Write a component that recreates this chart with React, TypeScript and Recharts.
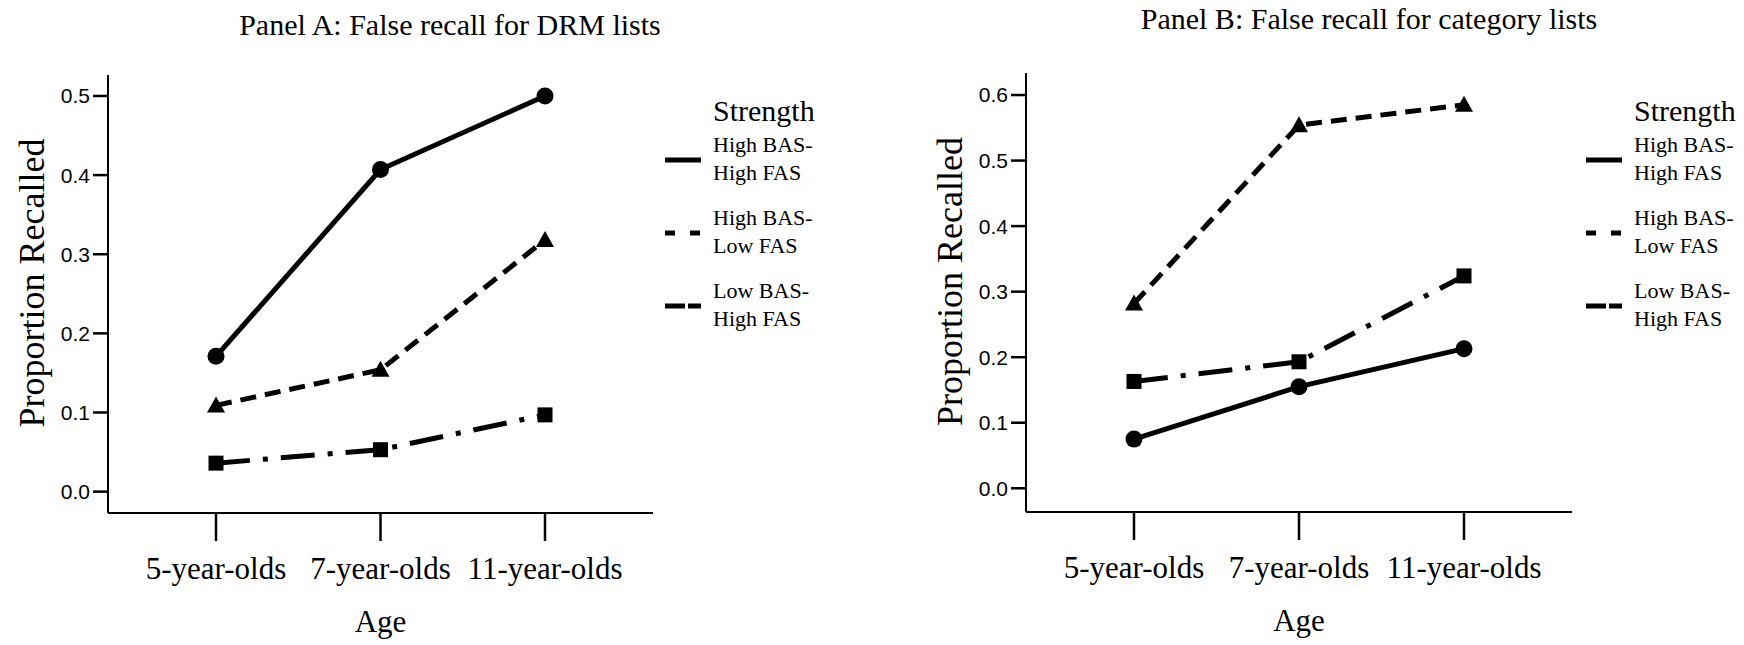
import { LineChart, Line, XAxis, YAxis, Legend } from 'recharts'

const ages = ['5-year-olds', '7-year-olds', '11-year-olds']
const strengthNames = ['High BAS-High FAS', 'High BAS-Low FAS', 'Low BAS-High FAS']

// Panel A: false recall for DRM lists
const drmHighBasHighFas = [0.171, 0.407, 0.5]
const drmHighBasLowFas = [0.109, 0.154, 0.318]
const drmLowBasHighFas = [0.036, 0.053, 0.097]

// Panel B: false recall for category lists
const catHighBasHighFas = [0.075, 0.155, 0.213]
const catHighBasLowFas = [0.282, 0.554, 0.585]
const catLowBasHighFas = [0.163, 0.193, 0.324]

const ticksA = [0, 0.1, 0.2, 0.3, 0.4, 0.5]
const ticksB = [0, 0.1, 0.2, 0.3, 0.4, 0.5, 0.6]

const SERIF = '"Liberation Serif", "Times New Roman", serif'
const SANS = '"Liberation Sans", Arial, sans-serif'

type Row = { age: string; hh: number; hl: number; lh: number }

const buildRows = (hh: number[], hl: number[], lh: number[]): Row[] =>
  ages.map((age, i) => ({ age, hh: hh[i], hl: hl[i], lh: lh[i] }))

const drmRows = buildRows(drmHighBasHighFas, drmHighBasLowFas, drmLowBasHighFas)
const catRows = buildRows(catHighBasHighFas, catHighBasLowFas, catLowBasHighFas)

const series = [
  { key: 'hh', name: strengthNames[0], dash: undefined, legendDash: undefined, marker: 'circle' },
  { key: 'hl', name: strengthNames[1], dash: '16 9', legendDash: '10 15', marker: 'triangle' },
  { key: 'lh', name: strengthNames[2], dash: '34 13 5 13', legendDash: '20 3 13', marker: 'square' },
]

function makeDot(kind: string) {
  return (p: any) => {
    const { cx, cy, key } = p
    if (cx == null || cy == null) return <g key={key} />
    if (kind === 'circle') return <circle key={key} cx={cx} cy={cy} r={8.5} fill="#000" />
    if (kind === 'square') return <rect key={key} x={cx - 7.5} y={cy - 7.5} width={15} height={15} fill="#000" />
    return <path key={key} d={`M${cx},${cy - 9}L${cx + 9},${cy + 7}L${cx - 9},${cy + 7}Z`} fill="#000" />
  }
}

const YTitle = (p: any) => {
  const vb = p.viewBox ?? { x: 0, y: 0, width: 0, height: 0 }
  const cx = vb.x + vb.width - 76
  const cy = vb.y + vb.height / 2 - 11
  return (
    <text x={cx} y={cy} transform={`rotate(-90 ${cx} ${cy})`} textAnchor="middle"
      dominantBaseline="central" fontFamily={SERIF} fontSize={36} fill="#000">
      Proportion Recalled
    </text>
  )
}

const AgeLabel = (p: any) => {
  const vb = p.viewBox ?? { x: 0, y: 0, width: 0, height: 0 }
  return (
    <text x={vb.x + vb.width / 2} y={vb.y + 119} textAnchor="middle"
      fontFamily={SERIF} fontSize={31} fill="#000">
      Age
    </text>
  )
}

function StrengthLegend() {
  return (
    <div style={{ fontFamily: SERIF, color: '#000', whiteSpace: 'nowrap' }}>
      <div style={{ paddingLeft: 48, fontSize: 30, lineHeight: '36px' }}>Strength</div>
      {series.map((s, i) => {
        const [first, second] = s.name.split('-')
        return (
          <div key={s.key} style={{ display: 'flex', alignItems: 'center', marginTop: i === 0 ? 2 : 17 }}>
            <svg width={36} height={12} style={{ marginRight: 12, marginTop: 2 }}>
              <line x1={0} y1={6} x2={36} y2={6} stroke="#000" strokeWidth={5} strokeDasharray={s.legendDash} />
            </svg>
            <div style={{ fontSize: 22, lineHeight: '28px' }}>
              <div>{first}-</div>
              <div>{second}</div>
            </div>
          </div>
        )
      })}
    </div>
  )
}

type PanelProps = {
  left: number
  width: number
  top: number
  right: number
  yWidth: number
  xHeight: number
  domain: [number, number]
  ticks: number[]
  rows: Row[]
  title: string
  titleX: number
  titleTop: number
  legendX: number
}

function Panel(p: PanelProps) {
  return (
    <div style={{ position: 'absolute', left: p.left, top: 0, width: p.width, height: 645 }}>
      <LineChart width={p.width} height={645} data={p.rows}
        margin={{ top: p.top, right: p.right, bottom: 0, left: 0 }}>
        <XAxis
          dataKey="age"
          type="category"
          height={p.xHeight}
          padding={{ left: 108, right: 108 }}
          interval={0}
          axisLine={{ stroke: '#000', strokeWidth: 2 }}
          tickLine={{ stroke: '#000', strokeWidth: 2.5 }}
          tickSize={28}
          tickMargin={16}
          tick={{ fontSize: 31, fontFamily: SERIF, fill: '#000' }}
          label={AgeLabel}
        />
        <YAxis
          type="number"
          domain={p.domain}
          ticks={p.ticks}
          allowDataOverflow
          width={p.yWidth}
          tickFormatter={(v: number) => v.toFixed(1)}
          axisLine={{ stroke: '#000', strokeWidth: 2 }}
          tickLine={{ stroke: '#000', strokeWidth: 2.5 }}
          tickSize={15}
          tickMargin={3}
          tick={{ fontSize: 21, fontFamily: SANS, fill: '#000' }}
          label={YTitle}
        />
        <Legend
          layout="vertical"
          align="center"
          verticalAlign="middle"
          content={<StrengthLegend />}
          wrapperStyle={{ left: p.legendX, top: 93, width: 160 }}
        />
        {series.map((s) => (
          <Line
            key={s.key}
            dataKey={s.key}
            name={s.name}
            stroke="#000"
            strokeWidth={5}
            strokeDasharray={s.dash}
            dot={makeDot(s.marker)}
            activeDot={false}
            isAnimationActive={false}
          />
        ))}
      </LineChart>
      <div style={{
        position: 'absolute', left: p.titleX - 300, width: 600, top: p.titleTop,
        textAlign: 'center', fontFamily: SERIF, fontSize: 30, lineHeight: '30px', color: '#000',
      }}>
        {p.title}
      </div>
    </div>
  )
}

export default function App() {
  return (
    <div style={{ position: 'absolute', left: 0, top: 0, width: 1744, height: 645, background: '#fff' }}>
      <Panel left={0} width={880} top={75} right={227} yWidth={108} xHeight={132}
        domain={[-0.027, 0.5265]} ticks={ticksA} rows={drmRows}
        title="Panel A: False recall for DRM lists" titleX={450} titleTop={10} legendX={665} />
      <Panel left={900} width={844} top={73} right={172} yWidth={126} xHeight={133}
        domain={[-0.0362, 0.6336]} ticks={ticksB} rows={catRows}
        title="Panel B: False recall for category lists" titleX={469} titleTop={4} legendX={686} />
    </div>
  )
}
